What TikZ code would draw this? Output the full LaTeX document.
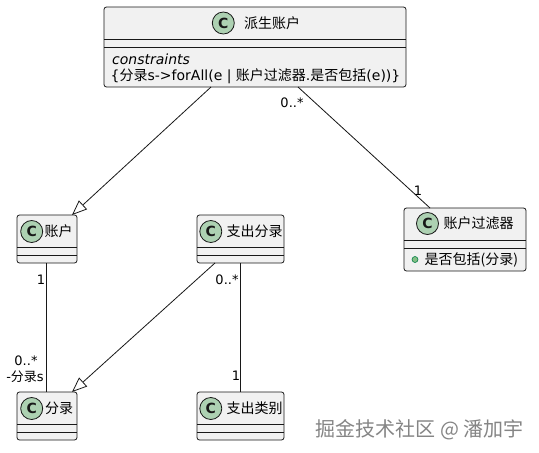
\documentclass[tikz,border=0pt]{standalone}
\usepackage{fontspec}
\setmainfont{DejaVu Sans}
\newfontfamily\cjkfam{Noto Sans CJK SC}
\newcommand\zh[1]{{\cjkfam #1}}
\usetikzlibrary{arrows.meta,calc}
\definecolor{boxfill}{HTML}{F1F1F1}
\definecolor{boxline}{HTML}{181818}
\definecolor{circfill}{HTML}{ADD1B2}
\definecolor{pubfill}{HTML}{84BE84}
\definecolor{publine}{HTML}{038048}
\definecolor{wmark}{HTML}{858585}
\newcommand\umlclass[5]{%
  \node[classbox, minimum width=#4pt, minimum height=#5pt] (#1) at (#2,#3) {};
  \draw[sepline] ([yshift=-32pt]#1.north west) -- ([yshift=-32pt]#1.north east);
  \draw[sepline] ([yshift=-40pt]#1.north west) -- ([yshift=-40pt]#1.north east);
}
\begin{document}
\begin{tikzpicture}[x=1pt,y=-1pt,
  classbox/.style={draw=boxline, fill=boxfill, line width=0.8pt, rounded corners=2.5pt,
    inner sep=0pt, outer sep=0pt, anchor=north west},
  sepline/.style={draw=boxline, line width=0.8pt},
  ccircle/.style={circle, draw=boxline, fill=circfill, line width=0.8pt, minimum size=22pt,
    inner sep=0pt, font=\fontsize{14}{14}\selectfont\bfseries, text=boxline},
  ctitle/.style={inner sep=0pt, anchor=west, font=\fontsize{14}{16}\selectfont\cjkfam, text=black},
  body/.style={inner sep=0pt, anchor=base west, font=\fontsize{14}{16}\selectfont, text=black},
  pubdot/.style={circle, draw=publine, fill=pubfill, line width=0.6pt, minimum size=6pt, inner sep=0pt},
  mult/.style={inner sep=0pt, font=\fontsize{13}{15}\selectfont, text=black},
  assoc/.style={draw=boxline, line width=0.8pt},
  gen/.style={assoc, -{Triangle[open, length=15pt, width=12pt]}},
]
\fill[white] (0,0) rectangle (539,453);
\useasboundingbox (0,0) rectangle (539,453);

% 派生账户
\umlclass{pai}{104}{7}{302}{80}
\node[ccircle] (paic) at (223.3,23) {C};
\node[ctitle] (pait) at (244,23) {派生账户};
\node[body] (paic1) at (112,64) {\itshape constraints};
\node[body] (paic2) at (110.5,80.5) {\{\zh{分录}s->forAll(e | \zh{账户过滤器}.\zh{是否包括}(e))\}};

% 账户
\umlclass{zh}{17}{215}{60}{48}
\node[ccircle] (zhc) at (31.7,231.5) {C};
\node[ctitle] (zht) at (44.5,231.5) {账户};

% 支出分录
\umlclass{zc}{197}{215}{87}{48}
\node[ccircle] (zcc) at (210.8,231.5) {C};
\node[ctitle] (zct) at (226.5,231.5) {支出分录};

% 账户过滤器
\umlclass{gl}{404}{208}{122}{63}
\node[ccircle] (glc) at (427.5,223.5) {C};
\node[ctitle] (glt) at (443.5,223.5) {账户过滤器};
\node[pubdot] (gld) at (415,259.5) {};
\node[ctitle] (glm) at (424.5,259.5) {是否包括(分录)};

% 分录
\umlclass{fl}{17}{392}{60}{48}
\node[ccircle] (flc) at (31.7,408.5) {C};
\node[ctitle] (flt) at (45,408.5) {分录};

% 支出类别
\umlclass{lb}{197}{392}{87}{48}
\node[ccircle] (lbc) at (210.8,408.5) {C};
\node[ctitle] (lbt) at (226.5,408.5) {支出类别};

% connectors
\draw[gen] ([xshift=107pt]pai.south west) -- ([xshift=55pt]zh.north west);
\draw[assoc] ([xshift=194pt]pai.south west) -- ([xshift=26pt]gl.north west);
\draw[assoc] ([xshift=-0.5pt]zh.south) -- ([xshift=-0.5pt]fl.north);
\draw[gen] ([xshift=18pt]zc.south west) -- ([xshift=55pt]fl.north west);
\draw[assoc] (zc.south) -- (lb.north);

% multiplicities
\node[mult] (m1) at (292,103) {0..*};
\node[mult] (m2) at (418,191) {1};
\node[mult] (m3) at (41,280) {1};
\node[mult] (m4) at (26,361) {0..*};
\node[mult] (m5) at (25,376.5) {-\zh{分录}s};
\node[mult] (m6) at (227,280) {0..*};
\node[mult] (m7) at (236,376) {1};

% watermark
\node[inner sep=0pt, font=\fontsize{20}{21}\selectfont\cjkfam, text=wmark] (wm) at (419.5,430) {掘金技术社区 @ 潘加宇};
\end{tikzpicture}
\end{document}
